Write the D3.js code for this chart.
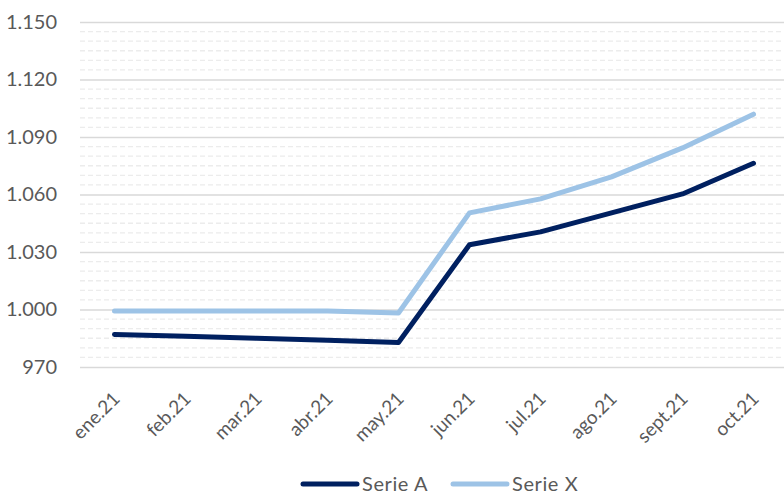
<!DOCTYPE html>
<html>
<head>
<meta charset="utf-8">
<script src="https://cdn.jsdelivr.net/npm/d3@7"></script>
<style>
  body { margin: 0; background: #fff; }
  #chart { width: 784px; height: 495px; }
  text { font-family: Lato, "Open Sans", sans-serif; fill: #595959; }
</style>
</head>
<body>
<div id="chart"></div>
<script>
// datos
const months = ['ene.21', 'feb.21', 'mar.21', 'abr.21', 'may.21', 'jun.21', 'jul.21', 'ago.21', 'sept.21', 'oct.21'];
const serieA = [987.0, 986.0, 985.0, 984.0, 982.8, 1033.8, 1040.5, 1050.4, 1060.3, 1076.3];
const serieX = [999.2, 999.2, 999.2, 999.2, 998.2, 1050.4, 1057.7, 1069.2, 1084.3, 1101.9];
const yTicks = [970, 1000, 1030, 1060, 1090, 1120, 1150];
const seriesNames = ['Serie A', 'Serie X'];
const seriesColors = ['#002060', '#9dc3e6'];

const width_svg = 784, height_svg = 495;
const margin = {top: 22, right: -5, bottom: 128, left: 79};

const svg = d3.select('#chart').append('svg')
  .attr('width', width_svg)
  .attr('height', height_svg);

const xScale = d3.scalePoint()
  .domain(months)
  .range([margin.left, width_svg - margin.right])
  .padding(0.5);

const yScale = d3.scaleLinear()
  .domain([970, 1150])
  .range([height_svg - margin.bottom, margin.top]);

const es = d3.formatLocale({decimal: ',', thousands: '.', grouping: [3], currency: ['', '€']});
const fmt = es.format(',d');

// líneas de cuadrícula secundarias (cada 5)
const minor = d3.range(970, 1150, 5).filter(v => (v - 970) % 30 !== 0);
svg.append('g')
  .selectAll('line')
  .data(minor)
  .enter().append('line')
    .attr('x1', margin.left + 1)
    .attr('x2', width_svg)
    .attr('y1', d => yScale(d))
    .attr('y2', d => yScale(d))
    .attr('stroke', '#ececec')
    .attr('stroke-width', 1.3)
    .attr('stroke-dasharray', '5,3');

// eje y
const yAxis = g => g.attr('transform', `translate(${margin.left}, 0)`)
  .call(d3.axisLeft(yScale).tickValues(yTicks).tickFormat(fmt).tickSize(0).tickPadding(22))
  .call(g => g.select('.domain').remove())
  .call(g => g.selectAll('.tick line').clone()
              .attr('x1', 1)
              .attr('x2', width_svg - margin.left)
              .attr('stroke', '#d9d9d9')
              .attr('stroke-width', 1.5))
  .call(g => g.selectAll('.tick text')
              .attr('font-size', 20)
              .attr('fill', '#595959')
              .attr('font-family', 'Lato, sans-serif'));

svg.append('g').call(yAxis);

// eje x
const xAxis = g => g.attr('transform', `translate(0, ${height_svg - margin.bottom})`)
  .call(d3.axisBottom(xScale).tickSize(0).tickPadding(0))
  .call(g => g.select('.domain').remove())
  .call(g => g.selectAll('.tick text')
              .attr('font-size', 19)
              .attr('fill', '#595959')
              .attr('font-family', 'Lato, sans-serif')
              .attr('text-anchor', 'end')
              .attr('dy', 0)
              .attr('transform', 'translate(6, 33) rotate(-45)'));

svg.append('g').call(xAxis);

// líneas
const line = d3.line()
  .x((d, i) => xScale(months[i]))
  .y(d => yScale(d));

svg.append('g')
  .attr('fill', 'none')
  .attr('stroke-width', 5)
  .attr('stroke-linejoin', 'round')
  .attr('stroke-linecap', 'round')
  .selectAll('path')
  .data([serieA, serieX])
  .enter().append('path')
    .attr('stroke', (d, i) => seriesColors[i])
    .attr('d', d => line(d));

// leyenda
const legendX = [303, 453];
const legend = svg.append('g')
  .selectAll('g')
  .data(seriesNames)
  .enter().append('g')
    .attr('transform', (d, i) => `translate(${legendX[i]}, 484)`);

legend.append('line')
  .attr('x1', 0).attr('x2', 54)
  .attr('stroke', (d, i) => seriesColors[i])
  .attr('stroke-width', 5)
  .attr('stroke-linecap', 'round');

legend.append('text')
  .attr('x', 59)
  .attr('dy', '0.35em')
  .attr('font-size', 20)
  .attr('letter-spacing', 0.6)
  .text(d => d);
</script>
</body>
</html>
